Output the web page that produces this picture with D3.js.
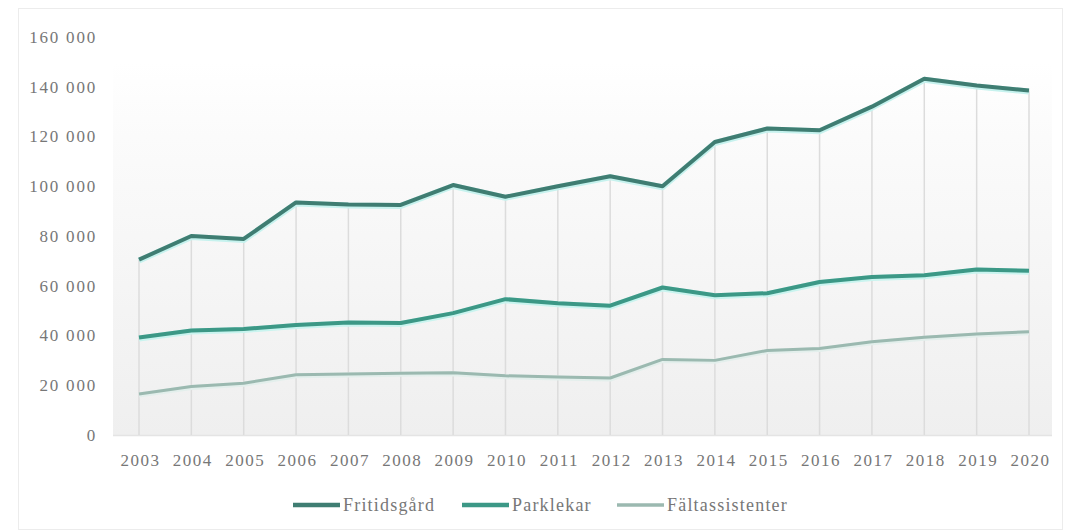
<!DOCTYPE html>
<html><head><meta charset="utf-8">
<script src="https://cdn.jsdelivr.net/npm/d3@7"></script>
<style>
html,body{margin:0;padding:0;background:#fff;}
svg{display:block;}
text{font-family:"Liberation Serif","DejaVu Serif",serif;fill:#777;}
</style></head>
<body><svg id="c" width="1068" height="531"></svg>
<script>
const years = ["2003","2004","2005","2006","2007","2008","2009","2010","2011","2012","2013","2014","2015","2016","2017","2018","2019","2020"];
const fritidsgard = [70500,80000,78800,93500,92700,92500,100500,95800,100000,104000,100000,117800,123200,122500,132000,143200,140500,138500];
const parklekar = [39200,42000,42600,44200,45200,45000,49000,54600,53000,52000,59300,56200,57000,61500,63500,64200,66500,66000];
const faltassistenter = [16500,19500,20800,24200,24500,24800,25000,23800,23300,22900,30400,30000,34000,34800,37500,39300,40600,41500];
const yTicks = [0,20000,40000,60000,80000,100000,120000,140000,160000];
const seriesNames = ["Fritidsgård","Parklekar","Fältassistenter"];

const series = [
  {name: seriesNames[0], values: fritidsgard, color: "#3f7d72", glow: "#c6f2ee", width: 4},
  {name: seriesNames[1], values: parklekar, color: "#3c9886", glow: "#c9f4ef", width: 4},
  {name: seriesNames[2], values: faltassistenter, color: "#9bb9b0", glow: "#e3efec", width: 3}
];

const svg = d3.select("#c");
const pLeft = 113, pRight = 1052, pTop = 37, pBottom = 435;

// outer frame
svg.append("rect").attr("x",18.5).attr("y",8.5).attr("width",1044).attr("height",521)
  .attr("fill","none").attr("stroke","#ececec").attr("stroke-width",1);

const x = d3.scalePoint().domain(years).range([139, 1029]);
const y = d3.scaleLinear().domain([0,160000]).range([pBottom, pTop]);

// background gradient
const defs = svg.append("defs");
const grad = defs.append("linearGradient").attr("id","bg").attr("x1",0).attr("y1",0).attr("x2",0).attr("y2",1);
grad.append("stop").attr("offset","0%").attr("stop-color","#ffffff");
grad.append("stop").attr("offset","20%").attr("stop-color","#fbfbfb");
grad.append("stop").attr("offset","100%").attr("stop-color","#efefef");
svg.append("rect").attr("x",pLeft).attr("y",y(150000)).attr("width",pRight-pLeft).attr("height",pBottom-y(150000))
  .attr("fill","url(#bg)");

// baseline
svg.append("line").attr("x1",pLeft).attr("x2",pRight).attr("y1",pBottom+0.5).attr("y2",pBottom+0.5)
  .attr("stroke","#e4e4e4").attr("stroke-width",1.5);

// drop lines from top series
svg.append("g").selectAll("line").data(years).join("line")
  .attr("x1",d=>x(d)).attr("x2",d=>x(d))
  .attr("y1",(d,i)=>y(fritidsgard[i])).attr("y2",pBottom)
  .attr("stroke","#dcdcdc").attr("stroke-width",1.5);

// y axis
const yAxis = d3.axisLeft(y).tickValues(yTicks).tickSize(0).tickPadding(0)
  .tickFormat(d => d3.format(",")(d).replace(/,/g," "));
const ga = svg.append("g").attr("transform",`translate(97,0)`).call(yAxis);
ga.select(".domain").remove();
ga.selectAll("text").attr("font-size",17).attr("fill","#777").attr("letter-spacing",1.8)
  .style("font-family","Liberation Serif, serif");

// x axis
const xAxis = d3.axisBottom(x).tickSize(0).tickPadding(0);
const gx = svg.append("g").attr("transform",`translate(1,454)`).call(xAxis);
gx.select(".domain").remove();
gx.selectAll("text").attr("font-size",17).attr("fill","#666").attr("letter-spacing",1.5).attr("dy","0.71em")
  .style("font-family","Liberation Serif, serif");

// lines
const line = d3.line().x((d,i)=>x(years[i])).y(d=>y(d));
series.slice().reverse().forEach(s => {
  svg.append("path").datum(s.values).attr("d",line).attr("fill","none")
    .attr("stroke",s.glow).attr("stroke-width",s.width+2).attr("stroke-linejoin","round")
    .attr("transform","translate(0,1)");
  svg.append("path").datum(s.values).attr("d",line).attr("fill","none")
    .attr("stroke",s.color).attr("stroke-width",s.width).attr("stroke-linejoin","round");
});

// legend
const legendX = [293, 462, 617];
const lg = svg.append("g");
series.forEach((s,i) => {
  const g = lg.append("g").attr("transform",`translate(${legendX[i]},505)`);
  g.append("line").attr("x1",0).attr("x2",47).attr("y1",0).attr("y2",0)
    .attr("stroke",s.color).attr("stroke-width",s.width+0.5);
  g.append("text").attr("x",50).attr("y",0).attr("dy","0.35em").attr("font-size",18)
    .attr("letter-spacing",1.2).attr("fill","#999").text(s.name);
});
</script>
</body></html>
